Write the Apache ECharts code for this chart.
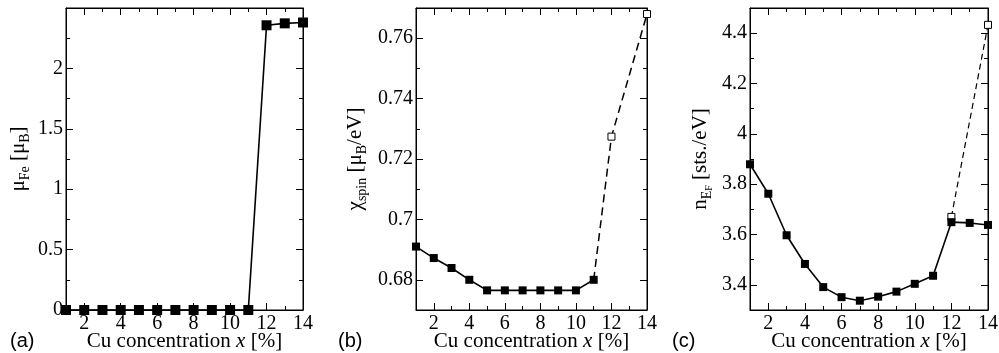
<!DOCTYPE html>
<html>
<head>
<meta charset="utf-8">
<script src="https://cdn.jsdelivr.net/npm/echarts@6/dist/echarts.min.js"></script>
<style>html,body{margin:0;padding:0;background:#fff;}#c{width:999px;height:353px;}</style>
</head>
<body>
<div id="c"></div>
<script>
// ---- data ----
const xValues = [1, 2, 3, 4, 5, 6, 7, 8, 9, 10, 11, 12, 13, 14];
const muFe = [0, 0, 0, 0, 0, 0, 0, 0, 0, 0, 0, 2.357, 2.373, 2.38];

const chiX = [1, 2, 3, 4, 5, 6, 7, 8, 9, 10, 11];
const chiSpin = [0.691, 0.6872, 0.6839, 0.680, 0.6765, 0.6765, 0.6765, 0.6765, 0.6765, 0.6765, 0.680];
const chiDashX = [11, 12, 14];
const chiDash = [0.680, 0.7274, 0.768];

const nEF = [3.879, 3.762, 3.597, 3.483, 3.391, 3.351, 3.337, 3.353, 3.373, 3.404, 3.436, 3.649, 3.646, 3.638];
const nDashX = [12, 14];
const nDash = [3.670, 4.433];

// tick values / labels
const xTickLabels = [2, 4, 6, 8, 10, 12, 14];
const xMinorTicks = [3, 5, 7, 9, 11, 13];
const yTicksA = [0, 0.5, 1, 1.5, 2];
const yMinorA = [0.25, 0.75, 1.25, 1.75, 2.25];
const yTicksB = [0.68, 0.70, 0.72, 0.74, 0.76];
const yMinorB = [0.69, 0.71, 0.73, 0.75];
const yTicksC = [3.4, 3.6, 3.8, 4.0, 4.2, 4.4];
const yMinorC = [3.5, 3.7, 3.9, 4.1, 4.3];
const panelLetters = ['(a)', '(b)', '(c)'];
const xTitle = 'Cu concentration ';

// ---- helpers ----
const SERIF = '"Liberation Serif", "DejaVu Serif", serif';
function pairs(xs, ys) { return xs.map((x, i) => [x, ys[i]]); }
const fmt = v => String(Number(v.toFixed(4)));

const rects = [
  { left: 66, width: 237, top: 8, height: 302 },
  { left: 416, width: 231, top: 8, height: 302 },
  { left: 750, width: 238, top: 8, height: 302 }
];
const yRanges = [
  { min: 0, max: 2.5, major: yTicksA, minor: yMinorA },
  { min: 0.67, max: 0.77, major: yTicksB, minor: yMinorB },
  { min: 3.3, max: 4.5, major: yTicksC, minor: yMinorC }
];
function rich() {
  return {
    m: { fontFamily: SERIF, fontSize: 21, lineHeight: 28, verticalAlign: 'middle', color: '#000' },
    s: { fontFamily: SERIF, fontSize: 14, lineHeight: 14, verticalAlign: 'bottom', color: '#000' },
    ss: { fontFamily: SERIF, fontSize: 10, lineHeight: 4, verticalAlign: 'bottom', color: '#000' },
    i: { fontFamily: SERIF, fontSize: 21, fontStyle: 'italic', lineHeight: 28, verticalAlign: 'middle', color: '#000' }
  };
}
const yNames = [
  '{m|μ}{s|Fe}{m| [μ}{s|B}{m|]}',
  '{m|χ}{s|spin}{m| [μ}{s|B}{m|/eV]}',
  '{m|n}{s|E}{ss|F}{m| [sts./eV]}'
];
const yNameGaps = [34, 47, 36];

function aLine(show) { return { show: show, onZero: false, lineStyle: { color: '#000', width: 1 } }; }
function aTick(vals, len) { return { show: true, inside: true, length: len, customValues: vals, lineStyle: { color: '#000', width: 1 } }; }

const grid = [];
rects.forEach(r => {
  grid.push(Object.assign({ containLabel: false, outerBoundsMode: 'none', show: true, borderColor: '#000', borderWidth: 1, backgroundColor: 'transparent' }, r));
  grid.push(Object.assign({ containLabel: false, outerBoundsMode: 'none' }, r));
});

const xAxis = [], yAxis = [];
rects.forEach((g, k) => {
  const gm = 2 * k, go = 2 * k + 1;
  const xb = { type: 'value', min: 1, max: 14, splitLine: { show: false } };
  xAxis.push(Object.assign({}, xb, {
    gridIndex: gm, position: 'bottom',
    axisLine: aLine(true), axisTick: aTick(xTickLabels, 7),
    axisLabel: { show: true, margin: 4, fontFamily: SERIF, fontSize: 20, color: '#000', customValues: xTickLabels, formatter: fmt },
    name: '{m|' + xTitle + '}{i|x}{m| [%]}',
    nameLocation: 'middle', nameGap: 17, nameMoveOverlap: false,
    nameTextStyle: { rich: rich() }
  }));
  xAxis.push(Object.assign({}, xb, { gridIndex: gm, position: 'top', axisLine: aLine(true), axisTick: aTick(xTickLabels, 7), axisLabel: { show: false } }));
  xAxis.push(Object.assign({}, xb, { gridIndex: go, position: 'bottom', axisLine: aLine(false), axisTick: aTick(xMinorTicks, 4), axisLabel: { show: false } }));
  xAxis.push(Object.assign({}, xb, { gridIndex: go, position: 'top', axisLine: aLine(false), axisTick: aTick(xMinorTicks, 4), axisLabel: { show: false } }));

  const r = yRanges[k];
  const yb = { type: 'value', min: r.min, max: r.max, splitLine: { show: false } };
  yAxis.push(Object.assign({}, yb, {
    gridIndex: gm, position: 'left',
    axisLine: aLine(true), axisTick: aTick(r.major, 7),
    axisLabel: { show: true, margin: 3, fontFamily: SERIF, fontSize: 20, color: '#000', customValues: r.major, formatter: fmt },
    name: yNames[k], nameLocation: 'middle', nameGap: yNameGaps[k], nameRotate: 90, nameMoveOverlap: false,
    nameTextStyle: { rich: rich() }
  }));
  yAxis.push(Object.assign({}, yb, { gridIndex: gm, position: 'right', axisLine: aLine(true), axisTick: aTick(r.major, 7), axisLabel: { show: false } }));
  yAxis.push(Object.assign({}, yb, { gridIndex: go, position: 'left', axisLine: aLine(false), axisTick: aTick(r.minor, 4), axisLabel: { show: false } }));
  yAxis.push(Object.assign({}, yb, { gridIndex: go, position: 'right', axisLine: aLine(false), axisTick: aTick(r.minor, 4), axisLabel: { show: false } }));
});

function filled(sz) { return { symbol: 'rect', symbolSize: sz, itemStyle: { color: '#000' } }; }
function hollow() { return { symbol: 'rect', symbolSize: 7, itemStyle: { color: '#fff', borderColor: '#000', borderWidth: 1 } }; }

const series = [
  Object.assign({ type: 'line', xAxisIndex: 0, yAxisIndex: 0, data: pairs(xValues, muFe), lineStyle: { color: '#000', width: 1.6 }, clip: false, z: 3 }, filled(10)),
  // panel b
  Object.assign({ type: 'line', xAxisIndex: 4, yAxisIndex: 4,
    data: pairs(chiDashX, chiDash).map((p, i) => i === 0 ? { value: p, symbol: 'none' } : p),
    lineStyle: { color: '#000', width: 1.5, type: [8, 5] }, clip: false, z: 2 }, hollow()),
  Object.assign({ type: 'line', xAxisIndex: 4, yAxisIndex: 4, data: pairs(chiX, chiSpin), lineStyle: { color: '#000', width: 1.6 }, clip: false, z: 3 }, filled(8)),
  // panel c
  Object.assign({ type: 'line', xAxisIndex: 8, yAxisIndex: 8, data: pairs(nDashX, nDash), lineStyle: { color: '#000', width: 1.2, type: [6, 4] }, clip: false, z: 2 }, hollow()),
  Object.assign({ type: 'line', xAxisIndex: 8, yAxisIndex: 8, data: pairs(xValues, nEF), lineStyle: { color: '#000', width: 1.6 }, clip: false, z: 3 }, filled(8))
];

const letterX = [10, 338, 672];
const graphic = panelLetters.map((t, k) => ({
  type: 'text', left: letterX[k], top: 331,
  style: { text: t, font: '20px "Liberation Sans", Arial, sans-serif', fill: '#000' }
}));

const chart = echarts.init(document.getElementById('c'), null, { renderer: 'canvas' });
chart.setOption({
  animation: false,
  backgroundColor: '#fff',
  grid, xAxis, yAxis, series, graphic
});
</script>
</body>
</html>
